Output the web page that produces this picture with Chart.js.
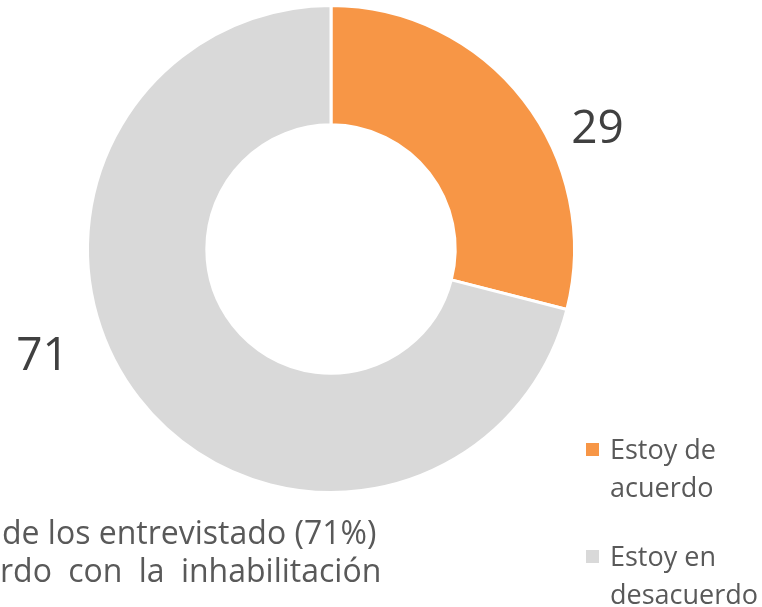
<!DOCTYPE html>
<html>
<head>
  <meta charset="utf-8">
  <title>Inhabilitación</title>
  <style>
    body {
      margin: 0;
      font-family: "Open Sans", sans-serif;
      background: #fff;
    }
    #wrap {
      position: relative;
      width: 762px;
      height: 607px;
      overflow: hidden;
    }
    .note {
      position: absolute;
      left: 0;
      font-size: 32px;
      line-height: 38px;
      color: #595959;
      white-space: nowrap;
    }
  </style>
</head>
<body>
  <div id="wrap">
    <canvas id="pie" width="762" height="607"></canvas>
    <div class="note" id="line1" style="top:513px; left:2px;">de los entrevistado (71%)</div>
    <div class="note" id="line2" style="top:551px; word-spacing:8px;">rdo con la inhabilitación</div>
  </div>

  <script src="https://cdn.jsdelivr.net/npm/chart.js@4"></script>

  <script>
    const labels = [['Estoy de', 'acuerdo'], ['Estoy en', 'desacuerdo']];
    const values = [29, 71];
    const colors = ['#F79646', '#D9D9D9'];

    // number labels outside the ring, pushed a bit clockwise of each slice middle
    const valueLabels = {
      id: 'valueLabels',
      afterDatasetsDraw(chart, args, opts) {
        const ctx = chart.ctx;
        const arcs = chart.getDatasetMeta(0).data;
        ctx.save();
        ctx.font = opts.font;
        ctx.fillStyle = opts.color;
        ctx.textAlign = 'center';
        ctx.textBaseline = 'middle';
        arcs.forEach((arc, i) => {
          const p = opts.place[i];
          const mid = (arc.startAngle + arc.endAngle) / 2 + p.shift * Math.PI / 180;
          const r = arc.outerRadius * p.dist;
          ctx.fillText(String(values[i]), arc.x + Math.cos(mid) * r, arc.y + Math.sin(mid) * r);
        });
        ctx.restore();
      }
    };

    // legend with two-line labels, bottom right
    const sideLegend = {
      id: 'sideLegend',
      afterDraw(chart, args, opts) {
        const ctx = chart.ctx;
        const ds = chart.data.datasets[0];
        ctx.save();
        ctx.font = opts.font;
        ctx.textBaseline = 'alphabetic';
        ctx.textAlign = 'left';
        let y = opts.y;
        chart.data.labels.forEach((lines, i) => {
          ctx.fillStyle = ds.backgroundColor[i];
          ctx.fillRect(opts.x, y - 16, 13, 13);
          ctx.fillStyle = opts.color;
          lines.forEach((t, j) => ctx.fillText(t, opts.x + 24, y + j * opts.lineHeight));
          y += opts.itemGap;
        });
        ctx.restore();
      }
    };

    new Chart(document.getElementById('pie'), {
      type: 'doughnut',
      data: {
        labels: labels,
        datasets: [{
          data: values,
          backgroundColor: colors,
          borderColor: '#fff',
          borderWidth: 3,
          hoverOffset: 0
        }]
      },
      options: {
        responsive: false,
        animation: false,
        cutout: '51%',
        layout: { padding: { left: 86, right: 186, top: 4, bottom: 113 } },
        plugins: {
          legend: { display: false },
          tooltip: { enabled: false },
          valueLabels: {
            font: '46px "Open Sans"',
            color: '#404040',
            place: [{ shift: 13.8, dist: 1.198 }, { shift: 17.3, dist: 1.265 }]
          },
          sideLegend: {
            x: 586, y: 459, lineHeight: 38, itemGap: 107,
            font: '27px "Open Sans"',
            color: '#595959'
          }
        }
      },
      plugins: [valueLabels, sideLegend]
    });
  </script>
</body>
</html>
